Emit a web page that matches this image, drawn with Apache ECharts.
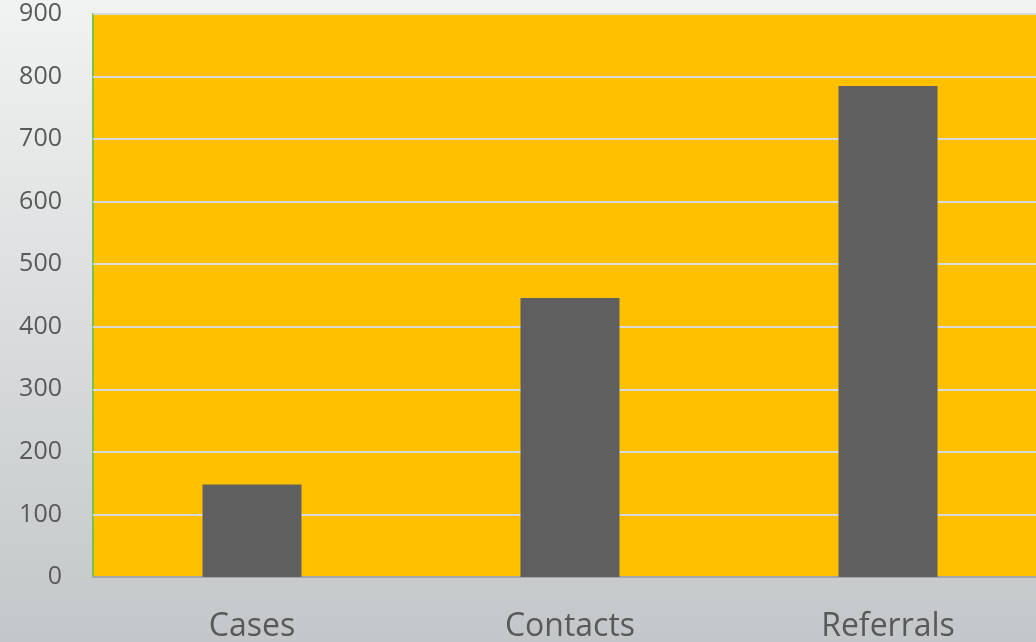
<!DOCTYPE html>
<html>
<head>
<meta charset="utf-8">
<script src="https://cdn.jsdelivr.net/npm/echarts@6/dist/echarts.min.js"></script>
<style>
  html, body { margin: 0; padding: 0; }
  #main { width: 1036px; height: 642px; }
</style>
</head>
<body>
<div id="main"></div>
<script>
// chart data
var categories = ['Cases', 'Contacts', 'Referrals'];
var counts = [148, 446, 785];
var yTicks = [0, 100, 200, 300, 400, 500, 600, 700, 800, 900];

var chart = echarts.init(document.getElementById('main'));

var option = {
  backgroundColor: new echarts.graphic.LinearGradient(0, 0, 0, 1, [
    { offset: 0, color: '#F1F2F2' },
    { offset: 1, color: '#C3C7C9' }
  ]),
  grid: {
    left: 93,
    top: 14,
    width: 954,   // runs past the right edge like the original slide
    bottom: 65,
    outerBoundsMode: 'none',
    show: true,
    backgroundColor: '#FFC000',
    borderColor: '#7DC242',
    borderWidth: 2
  },
  xAxis: {
    type: 'category',
    data: categories,
    axisLine: { lineStyle: { color: '#A6A6A6', width: 2 } },
    axisTick: { show: false },
    axisLabel: {
      color: '#595959',
      fontSize: 32,
      fontFamily: 'Open Sans',
      margin: 34
    }
  },
  yAxis: {
    type: 'value',
    min: yTicks[0],
    max: yTicks[yTicks.length - 1],
    interval: 100,
    axisLine: { show: false },
    axisTick: { show: false },
    splitLine: { lineStyle: { color: '#D9D9D9', width: 2 } },
    axisLabel: {
      color: '#595959',
      fontSize: 25,
      fontFamily: 'Open Sans',
      margin: 31,
      padding: [4, 0, 0, 0]
    }
  },
  series: [
    {
      type: 'bar',
      data: counts,
      barWidth: 99,
      itemStyle: { color: '#5F5F5F' },
      silent: true
    }
  ]
};

chart.setOption(option);
</script>
</body>
</html>
